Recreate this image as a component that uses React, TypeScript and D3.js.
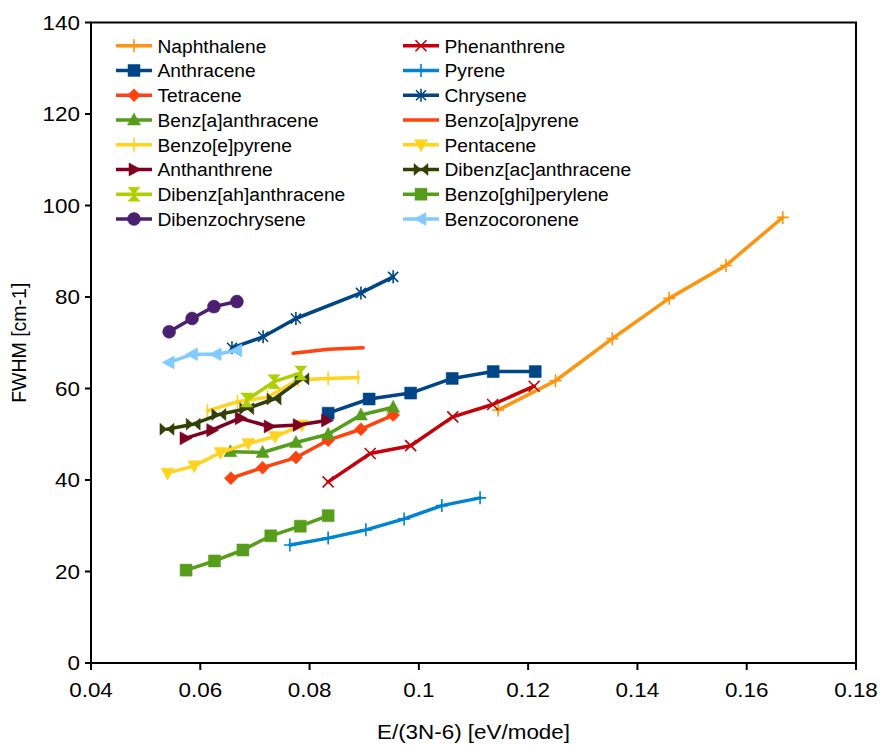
import React from "react";
import * as d3 from "d3";

// ---- data ----
const naphthaleneX = [0.1145, 0.125, 0.1354, 0.1458, 0.1562, 0.1666];
const naphthaleneY = [55.3, 61.7, 70.9, 79.7, 86.9, 97.4];
const phenanthreneX = [0.0834, 0.0911, 0.0985, 0.1062, 0.1135, 0.1211];
const phenanthreneY = [39.6, 45.8, 47.5, 53.8, 56.5, 60.5];
const anthraceneX = [0.0834, 0.0909, 0.0985, 0.1061, 0.1136, 0.1213];
const anthraceneY = [54.6, 57.7, 59.0, 62.2, 63.7, 63.7];
const pyreneX = [0.0764, 0.0834, 0.0903, 0.0973, 0.1042, 0.1112];
const pyreneY = [25.8, 27.3, 29.1, 31.5, 34.4, 36.1];
const tetraceneX = [0.0656, 0.0714, 0.0775, 0.0834, 0.0894, 0.0953];
const tetraceneY = [40.4, 42.7, 44.9, 48.7, 51.1, 54.2];
const chryseneX = [0.0658, 0.0715, 0.0775, 0.0894, 0.0953];
const chryseneY = [68.9, 71.3, 75.3, 80.9, 84.4];
const benzAAnthraceneX = [0.0655, 0.0714, 0.0775, 0.0834, 0.0894, 0.0953];
const benzAAnthraceneY = [46.2, 46.0, 48.2, 50.0, 54.2, 55.9];
const benzoAPyreneX = [0.077, 0.0834, 0.0898];
const benzoAPyreneY = [67.7, 68.6, 68.9];
const benzoEPyreneX = [0.0613, 0.0668, 0.0723, 0.0779, 0.0834, 0.0889];
const benzoEPyreneY = [55.1, 57.1, 58.1, 61.9, 62.2, 62.4];
const pentaceneX = [0.054, 0.0589, 0.0637, 0.0688, 0.0737, 0.0786];
const pentaceneY = [41.5, 43.1, 46.0, 48.0, 49.5, 52.0];
const anthanthreneX = [0.0572, 0.0621, 0.0673, 0.0726, 0.0779, 0.0831];
const anthanthreneY = [49.1, 50.9, 53.5, 51.7, 52.0, 53.0];
const dibenzAcX = [0.0539, 0.0587, 0.0634, 0.0685, 0.0735, 0.0786];
const dibenzAcY = [51.1, 52.2, 54.3, 55.6, 57.7, 62.1];
const dibenzAhX = [0.0685, 0.0735, 0.0784];
const dibenzAhY = [57.5, 61.5, 63.4];
const benzoGhiX = [0.0574, 0.0626, 0.0678, 0.0729, 0.0783, 0.0834];
const benzoGhiY = [20.3, 22.3, 24.7, 27.8, 29.9, 32.2];
const dibenzochryseneX = [0.0543, 0.0585, 0.0625, 0.0667];
const dibenzochryseneY = [72.4, 75.3, 77.9, 79.0];
const benzocoroneneX = [0.0543, 0.0586, 0.0629, 0.0667];
const benzocoroneneY = [65.7, 67.5, 67.5, 68.3];

const seriesNames = [
  "Naphthalene", "Phenanthrene", "Anthracene", "Pyrene", "Tetracene", "Chrysene",
  "Benz[a]anthracene", "Benzo[a]pyrene", "Benzo[e]pyrene", "Pentacene", "Anthanthrene",
  "Dibenz[ac]anthracene", "Dibenz[ah]anthracene", "Benzo[ghi]perylene", "Dibenzochrysene", "Benzocoronene",
];
const seriesX = [naphthaleneX, phenanthreneX, anthraceneX, pyreneX, tetraceneX, chryseneX,
  benzAAnthraceneX, benzoAPyreneX, benzoEPyreneX, pentaceneX, anthanthreneX, dibenzAcX,
  dibenzAhX, benzoGhiX, dibenzochryseneX, benzocoroneneX];
const seriesY = [naphthaleneY, phenanthreneY, anthraceneY, pyreneY, tetraceneY, chryseneY,
  benzAAnthraceneY, benzoAPyreneY, benzoEPyreneY, pentaceneY, anthanthreneY, dibenzAcY,
  dibenzAhY, benzoGhiY, dibenzochryseneY, benzocoroneneY];
const seriesColors = ["#ff950e", "#c5000b", "#004586", "#0084d1", "#ff420e", "#004586",
  "#579d1c", "#ff420e", "#ffd320", "#ffd320", "#7e0021", "#314004",
  "#aecf00", "#579d1c", "#4b1f6f", "#83caff"];
const seriesMarkers = ["plus", "x", "square", "plus", "diamond", "asterisk",
  "triUp", "none", "vbar", "triDown", "triRight", "bowtie",
  "hourglass", "square", "circle", "triLeft"];

const xTicks = [0.04, 0.06, 0.08, 0.1, 0.12, 0.14, 0.16, 0.18];
const yTicks = [0, 20, 40, 60, 80, 100, 120, 140];
const xTitle = "E/(3N-6) [eV/mode]";
const yTitle = "FWHM [cm-1]";

// ---- layout ----
const W = 880, H = 745;
const L = 91, R = 856, T = 22.5, B = 663;
const FONT = "'Liberation Sans', Arial, sans-serif";

function markerPath(kind: string): { d: string; fill: boolean } {
  switch (kind) {
    case "plus": return { d: "M-6,0H6M0,-6.5V6.5", fill: false };
    case "x": return { d: "M-5.5,-5.5L5.5,5.5M-5.5,5.5L5.5,-5.5", fill: false };
    case "asterisk": return { d: "M-5,-5L5,5M-5,5L5,-5M0,-6.5V6.5", fill: false };
    case "vbar": return { d: "M0,-7V7", fill: false };
    case "square": return { d: "M-6,-6H6V6H-6Z", fill: true };
    case "diamond": return { d: "M0,-6.5L6.5,0L0,6.5L-6.5,0Z", fill: true };
    case "triUp": return { d: "M0,-7L6.5,5L-6.5,5Z", fill: true };
    case "triDown": return { d: "M0,7L6.5,-5L-6.5,-5Z", fill: true };
    case "triRight": return { d: "M7,0L-5,-6.5L-5,6.5Z", fill: true };
    case "triLeft": return { d: "M-7,0L5,-6.5L5,6.5Z", fill: true };
    case "bowtie": return { d: "M-7,-6L0,0L-7,6ZM7,-6L0,0L7,6Z", fill: true };
    case "hourglass": return { d: "M-6,-7L6,-7L0,0ZM-6,7L6,7L0,0Z", fill: true };
    case "circle": return { d: "M6.5,0A6.5,6.5 0 1,1 -6.5,0A6.5,6.5 0 1,1 6.5,0Z", fill: true };
    default: return { d: "", fill: false };
  }
}

function Marker({ kind, color, x, y }: { kind: string; color: string; x: number; y: number }) {
  const m = markerPath(kind);
  if (!m.d) return null;
  return (
    <path
      d={m.d}
      transform={`translate(${x},${y})`}
      fill={m.fill ? color : "none"}
      stroke={color}
      strokeWidth={m.fill ? 0.5 : 1.6}
    />
  );
}

export default function App() {
  const x = d3.scaleLinear().domain([0.04, 0.18]).range([L, R]);
  const y = d3.scaleLinear().domain([0, 140]).range([B, T]);
  const line = d3.line<[number, number]>().x((d) => x(d[0])).y((d) => y(d[1]));
  const fmt = (v: number) => String(+v.toFixed(2));
  const SX = 1.15;

  return (
    <svg width={W} height={H} style={{ position: "absolute", left: 0, top: 0, background: "#fff" }}
      fontFamily={FONT}>
      <rect x={0} y={0} width={W} height={H} fill="#fff" />
      {/* series */}
      {seriesNames.map((name, i) => {
        const pts = seriesX[i].map((v, j) => [v, seriesY[i][j]] as [number, number]);
        return (
          <g key={name}>
            <path d={line(pts) || ""} fill="none" stroke={seriesColors[i]} strokeWidth={3.5}
              strokeLinejoin="round" strokeLinecap="round" />
            {pts.map((p, j) => (
              <Marker key={j} kind={seriesMarkers[i]} color={seriesColors[i]} x={x(p[0])} y={y(p[1])} />
            ))}
          </g>
        );
      })}
      {/* frame */}
      <rect x={L} y={T} width={R - L} height={B - T} fill="none" stroke="#000" strokeWidth={2} />
      {/* y ticks */}
      {yTicks.map((t) => (
        <g key={"y" + t}>
          <line x1={L - 6} x2={L} y1={y(t)} y2={y(t)} stroke="#000" strokeWidth={2} />
          <text transform={`translate(${L - 11},${y(t) + 7}) scale(${SX},1)`} textAnchor="end"
            fontSize={19.5} fill="#000">{t}</text>
        </g>
      ))}
      {/* x ticks */}
      {xTicks.map((t) => (
        <g key={"x" + t}>
          <line x1={x(t)} x2={x(t)} y1={B} y2={B + 7} stroke="#000" strokeWidth={2} />
          <text transform={`translate(${x(t)},${B + 34}) scale(${SX},1)`} textAnchor="middle"
            fontSize={19.5} fill="#000">{fmt(t)}</text>
        </g>
      ))}
      {/* axis titles */}
      <text transform={`translate(${(L + R) / 2},739) scale(${SX},1)`} textAnchor="middle"
        fontSize={19.5} fill="#000">{xTitle}</text>
      <text transform={`translate(26,${(T + B) / 2}) rotate(-90)`} textAnchor="middle"
        fontSize={19.5} fill="#000">{yTitle}</text>
      {/* legend */}
      {seriesNames.map((name, i) => {
        const col = i % 2;
        const row = Math.floor(i / 2);
        const lx = col === 0 ? 116 : 403;
        const ly = 45.7 + row * 24.75;
        return (
          <g key={"lg" + name}>
            <line x1={lx} x2={lx + 36} y1={ly} y2={ly} stroke={seriesColors[i]} strokeWidth={3.5} />
            <Marker kind={seriesMarkers[i]} color={seriesColors[i]} x={lx + 18} y={ly} />
            <text x={lx + 41.5} y={ly + 7} fontSize={19.2} fill="#000">{name}</text>
          </g>
        );
      })}
    </svg>
  );
}
